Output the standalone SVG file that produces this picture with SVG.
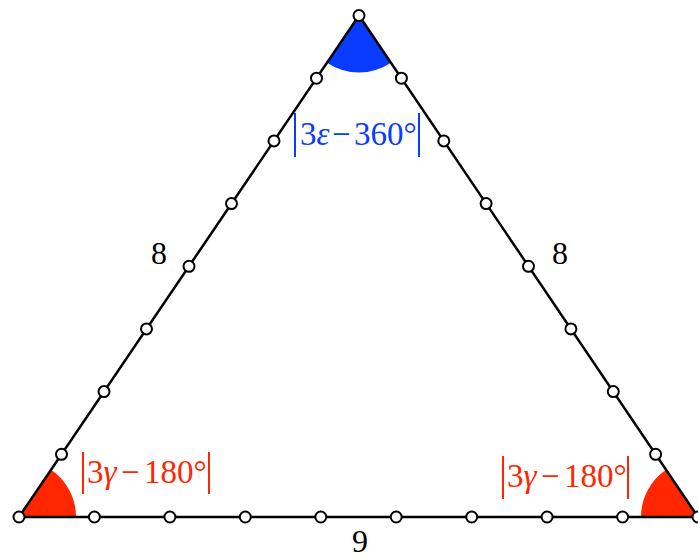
<svg xmlns="http://www.w3.org/2000/svg" width="698" height="560" viewBox="0 0 698 560">
<style>
.edge{stroke:#000;stroke-width:2.5;fill:none;stroke-linecap:round}
.pt{fill:#fff;stroke:#000;stroke-width:2}
.lbl{font-family:"Liberation Serif","Times New Roman",Times,serif;font-size:32px;fill:#000;text-anchor:middle}
.ang{font-family:"Liberation Serif","Times New Roman",Times,serif;font-size:33px}
.it{font-style:italic}
.blue{fill:#0a3cff}
.red{fill:#ff2600}
.bbar{stroke:#0a3cff;stroke-width:2}
.rbar{stroke:#ff2600;stroke-width:2}
</style>
<rect width="698" height="560" fill="#fff"/>
<g id="sectors">
<path class="blue" d="M359,15.5 L327,62.7 A57,57 0 0 0 390.9,62.7 Z"/>
<path class="red" d="M19,517 L76,517 A57,57 0 0 0 51,469.8 Z"/>
<path class="red" d="M698,517 L666.1,469.8 A57,57 0 0 0 641,517 Z"/>
</g>
<g id="connectors">
<path class="edge" d="M19,517 L359,15.5 L698,517 Z"/>
</g>
<g id="points">
<circle class="pt" cx="19" cy="517" r="5.5"/>
<circle class="pt" cx="61.5" cy="454.3" r="5.5"/>
<circle class="pt" cx="104" cy="391.6" r="5.5"/>
<circle class="pt" cx="146.5" cy="328.9" r="5.5"/>
<circle class="pt" cx="189" cy="266.3" r="5.5"/>
<circle class="pt" cx="231.5" cy="203.6" r="5.5"/>
<circle class="pt" cx="274" cy="140.9" r="5.5"/>
<circle class="pt" cx="316.5" cy="78.2" r="5.5"/>
<circle class="pt" cx="359" cy="15.5" r="5.5"/>
<circle class="pt" cx="401.4" cy="78.2" r="5.5"/>
<circle class="pt" cx="443.8" cy="140.9" r="5.5"/>
<circle class="pt" cx="486.1" cy="203.6" r="5.5"/>
<circle class="pt" cx="528.5" cy="266.3" r="5.5"/>
<circle class="pt" cx="570.9" cy="328.9" r="5.5"/>
<circle class="pt" cx="613.3" cy="391.6" r="5.5"/>
<circle class="pt" cx="655.6" cy="454.3" r="5.5"/>
<circle class="pt" cx="698" cy="517" r="5.5"/>
<circle class="pt" cx="94.4" cy="517" r="5.5"/>
<circle class="pt" cx="169.9" cy="517" r="5.5"/>
<circle class="pt" cx="245.3" cy="517" r="5.5"/>
<circle class="pt" cx="320.8" cy="517" r="5.5"/>
<circle class="pt" cx="396.2" cy="517" r="5.5"/>
<circle class="pt" cx="471.7" cy="517" r="5.5"/>
<circle class="pt" cx="547.1" cy="517" r="5.5"/>
<circle class="pt" cx="622.6" cy="517" r="5.5"/>
</g>
<g id="side-labels">
<text class="lbl" x="159" y="264">8</text>
<text class="lbl" x="560" y="264">8</text>
<text class="lbl" x="360" y="552">9</text>
</g>
<g id="label-top">
<line class="bbar" x1="295" y1="113" x2="295" y2="157"/>
<line class="bbar" x1="419" y1="113" x2="419" y2="157"/>
<text class="ang blue" x="300" y="145">3<tspan class="it">ε</tspan></text>
<text class="ang blue" x="332" y="145">−</text>
<text class="ang blue" x="354" y="145">360°</text>
</g>
<g id="label-left">
<line class="rbar" x1="83" y1="452" x2="83" y2="494"/>
<line class="rbar" x1="209" y1="452" x2="209" y2="494"/>
<text class="ang red" x="87" y="483">3<tspan class="it">γ</tspan></text>
<text class="ang red" x="121" y="483">−</text>
<text class="ang red" x="144" y="483">180°</text>
</g>
<g id="label-right">
<line class="rbar" x1="503" y1="456" x2="503" y2="499"/>
<line class="rbar" x1="628" y1="456" x2="628" y2="499"/>
<text class="ang red" x="507" y="487">3<tspan class="it">γ</tspan></text>
<text class="ang red" x="541" y="487">−</text>
<text class="ang red" x="564" y="487">180°</text>
</g>
</svg>
